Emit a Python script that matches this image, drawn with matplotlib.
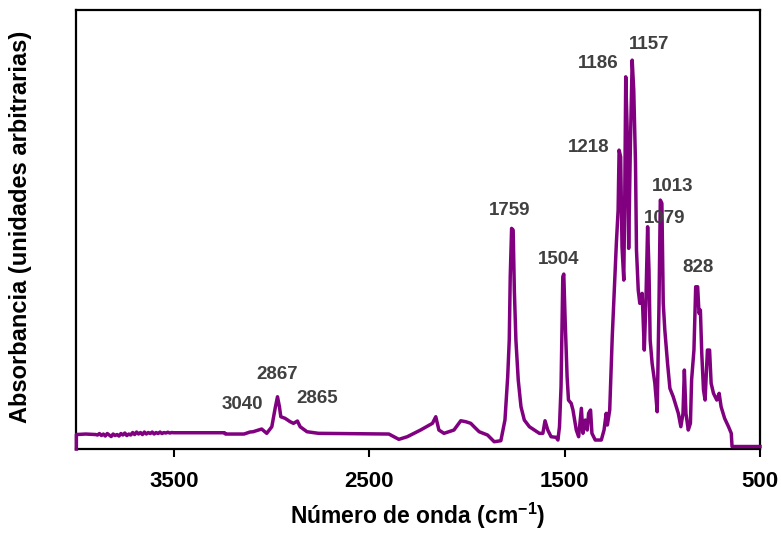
import numpy as np
import matplotlib
matplotlib.use("Agg")
import matplotlib.pyplot as plt

plt.rcParams["font.family"] = ["Liberation Sans", "DejaVu Sans"]
plt.rcParams["mathtext.fontset"] = "custom"
plt.rcParams["mathtext.rm"] = "Liberation Sans"
plt.rcParams["mathtext.bf"] = "Liberation Sans:bold"

# spectrum (wavenumber, absorbance in arbitrary units)
wavenumber = [
    3998, 3998, 3950, 3900, 3890, 3880, 3870, 3860, 3850, 3840, 3830, 3820, 3810,
    3800, 3790, 3780, 3770, 3760, 3750, 3740, 3730, 3720, 3710, 3700, 3690,
    3680, 3670, 3660, 3650, 3640, 3630, 3620, 3610, 3600, 3590, 3580, 3570,
    3560, 3550, 3540, 3530, 3520, 3510, 3500, 3240, 3235, 3140, 3110, 3094,
    3050, 3024, 2998, 2981, 2969, 2959, 2952, 2930, 2904, 2887, 2867, 2853,
    2818, 2759, 2399, 2348, 2305, 2237, 2176, 2159, 2143, 2117, 2066, 2031,
    2005, 1980, 1963, 1937, 1894, 1860, 1826, 1805, 1791, 1783, 1778, 1771,
    1763, 1757, 1749, 1737, 1723, 1706, 1680, 1655, 1629, 1611, 1600, 1586,
    1569, 1543, 1534, 1526, 1518, 1509, 1504, 1497, 1487, 1480, 1466, 1457,
    1440, 1428, 1414, 1406, 1394, 1384, 1377, 1367, 1360, 1343, 1312, 1298,
    1287, 1281, 1269, 1256, 1244, 1235, 1226, 1221, 1213, 1206, 1197, 1192,
    1187, 1180, 1172, 1163, 1154, 1146, 1137, 1132, 1123, 1115, 1103, 1092,
    1084, 1075, 1068, 1062, 1052, 1038, 1026, 1017, 1010, 1002, 995, 987,
    973, 961, 944, 918, 905, 894, 887, 879, 867, 856, 850, 838,
    829, 819, 812, 805, 798, 789, 781, 769, 758, 750, 738, 721,
    709, 699, 681, 661, 647, 643, 500,
]
absorbance = [
    0.0, 14.5, 15.0, 14.5, 14.0, 15.5, 13.5, 15.0, 13.0, 15.5, 14.0, 12.5, 15.0,
    13.5, 14.5, 13.0, 15.5, 14.0, 16.0, 13.5, 15.0, 14.0, 16.5, 14.5, 17.0,
    15.0, 16.5, 14.5, 17.0, 15.0, 16.5, 15.5, 17.0, 15.0, 16.5, 15.5, 17.0,
    15.5, 16.5, 16.0, 16.8, 16.0, 16.5, 16.3, 16.3, 15.0, 15.0, 17.0, 17.3,
    20.0, 15.7, 22.3, 40.7, 52.3, 42.3, 32.3, 30.7, 27.3, 25.7, 28.0, 22.3,
    17.3, 15.7, 15.0, 9.7, 12.3, 19.0, 25.7, 32.3, 19.0, 15.7, 19.0, 28.3,
    27.3, 25.7, 22.3, 17.3, 14.0, 7.3, 8.3, 29.0, 72.3, 109.0, 172.3, 220.7,
    219.0, 159.0, 109.0, 69.0, 42.3, 29.0, 22.3, 19.0, 15.7, 15.7, 28.3, 19.0,
    12.3, 11.7, 9.0, 22.3, 62.3, 172.3, 175.0, 129.0, 72.3, 49.0, 45.7, 39.0,
    19.0, 12.3, 40.7, 15.7, 29.0, 19.0, 35.7, 39.0, 15.7, 9.0, 9.0, 19.0,
    35.7, 24.0, 39.0, 112.3, 165.7, 205.7, 239.0, 299.0, 292.3, 202.3, 169.0, 252.3,
    372.3, 322.3, 200.7, 305.7, 389.0, 359.0, 285.7, 199.0, 159.0, 145.7, 155.7, 99.0,
    145.7, 222.3, 179.0, 109.0, 85.7, 65.7, 37.3, 142.3, 249.0, 245.7, 145.7, 119.0,
    85.7, 60.7, 52.3, 35.7, 22.3, 35.7, 79.0, 35.7, 19.0, 25.7, 69.0, 99.0,
    162.3, 162.3, 135.7, 139.0, 95.7, 59.0, 49.0, 99.0, 99.0, 65.7, 55.7, 49.0,
    55.7, 42.3, 30.7, 22.3, 15.7, 2.5, 2.5,
]

# peak labels: text, x, y
peak_text = ["1157", "1186", "1218", "1013", "1079", "828", "1759", "1504",
             "2867", "3040", "2865"]
peak_x = [1066, 1328, 1374, 947, 989, 819, 1779, 1528, 2971, 3151, 2766]
peak_y = [405, 386, 302, 263, 231, 182, 239, 190, 75, 45, 51]

fig = plt.figure(figsize=(7.81, 5.35), dpi=100)
ax = fig.add_axes([0.0973, 0.1607, 0.8758, 0.8203])

ax.plot(wavenumber, absorbance, color="#800080", lw=2.5, zorder=3,
        clip_on=False)

for t, x, y in zip(peak_text, peak_x, peak_y):
    ax.text(x, y, t, ha="center", va="center", fontsize=13.5,
            fontweight="bold", color="#404040")

ax.set_xlim(4000, 500)
ax.set_ylim(0, 439)
ax.set_xticks([3500, 2500, 1500, 500])
ax.set_yticks([])
ax.tick_params(axis="x", direction="out", length=6, width=1.5, pad=10,
               labelsize=16)
for lbl in ax.get_xticklabels():
    lbl.set_fontweight("bold")
for s in ax.spines.values():
    s.set_linewidth(1.6)

ax.set_xlabel(r"Número de onda (cm$^{\mathbf{-1}}$)", fontsize=16.5,
              fontweight="bold", labelpad=6)
ax.set_ylabel("Absorbancia (unidades arbitrarias)", fontsize=17,
              fontweight="bold")
ax.yaxis.set_label_coords(-0.064, 0.506)

fig.savefig("out.png", dpi=100)
